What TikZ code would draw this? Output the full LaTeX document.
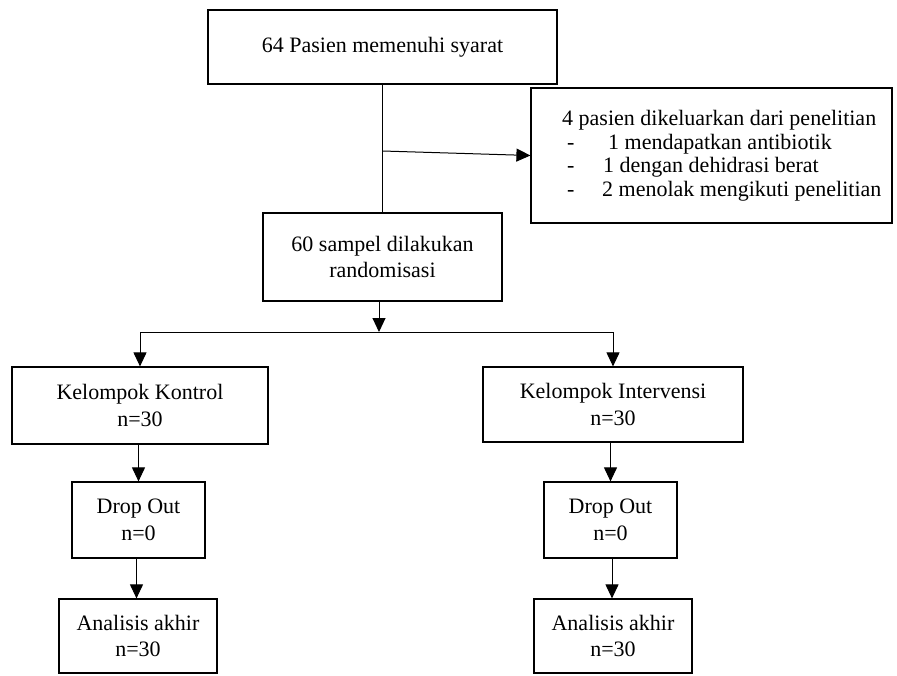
\documentclass[tikz,border=0pt]{standalone}
\usepackage{fontspec}
\setmainfont{Liberation Serif}
\usetikzlibrary{arrows.meta}
\begin{document}
\begin{tikzpicture}[x=1pt,y=-1pt,
  box/.style={draw,line width=1.2pt,inner sep=0pt,align=center,
    font=\fontsize{22}{26.5}\selectfont},
  conn/.style={line width=1pt},
  arr/.style={line width=1pt,-{Triangle[length=14pt,width=13pt]}}]
\useasboundingbox (0,0) rectangle (897,675);
% nodes
\node[box,minimum width=349pt,minimum height=74pt] (top) at (382.5,47) {64 Pasien memenuhi syarat};
\node[box,minimum width=361pt,minimum height=135pt] (excl) at (711.5,155.5) {};
\node[inner sep=0pt,anchor=west,align=left,font=\fontsize{22}{23.5}\selectfont] (excltext) at (562,155.5)
  {4 pasien dikeluarkan dari penelitian\\
   \makebox[46pt][l]{\hspace{5pt}-}1 mendapatkan antibiotik\\
   \makebox[41pt][l]{\hspace{5pt}-}1 dengan dehidrasi berat\\
   \makebox[40pt][l]{\hspace{5pt}-}2 menolak mengikuti penelitian};
\node[box,minimum width=239pt,minimum height=88pt] (mid) at (382.5,257) {60 sampel dilakukan\\randomisasi};
\node[box,minimum width=256pt,minimum height=77pt] (kon) at (140,405.5) {Kelompok Kontrol\\n=30};
\node[box,minimum width=260pt,minimum height=75pt] (int) at (613,404.5) {Kelompok Intervensi\\n=30};
\node[box,minimum width=133pt,minimum height=76pt] (dropL) at (138.5,520) {Drop Out\\n=0};
\node[box,minimum width=133pt,minimum height=76pt] (dropR) at (610.5,520) {Drop Out\\n=0};
\node[box,minimum width=158pt,minimum height=74pt] (anaL) at (138,636) {Analisis akhir\\n=30};
\node[box,minimum width=158pt,minimum height=74pt] (anaR) at (613,636) {Analisis akhir\\n=30};
% coordinates
\coordinate (brk) at (382.5,151);
\coordinate (split) at (379,332);
\coordinate (splitL) at (140,332);
\coordinate (splitR) at (613,332);
% connectors
\draw[conn] (top.south) -- (mid.north);
\draw[arr] (brk) -- (excl.west);
\draw[arr] (mid.south -| split) -- (split);
\draw[conn] (splitL) -- (splitR);
\draw[arr] (splitL) -- (kon.north);
\draw[arr] (splitR) -- (int.north);
\draw[arr] (kon.south -| dropL.north) -- (dropL.north);
\draw[arr] (int.south -| dropR.north) -- (dropR.north);
\draw[arr] ([xshift=-2pt]dropL.south) -- ([xshift=-2pt]dropL.south |- anaL.north);
\draw[arr] ([xshift=1.5pt]dropR.south) -- ([xshift=1.5pt]dropR.south |- anaR.north);
\end{tikzpicture}
\end{document}
